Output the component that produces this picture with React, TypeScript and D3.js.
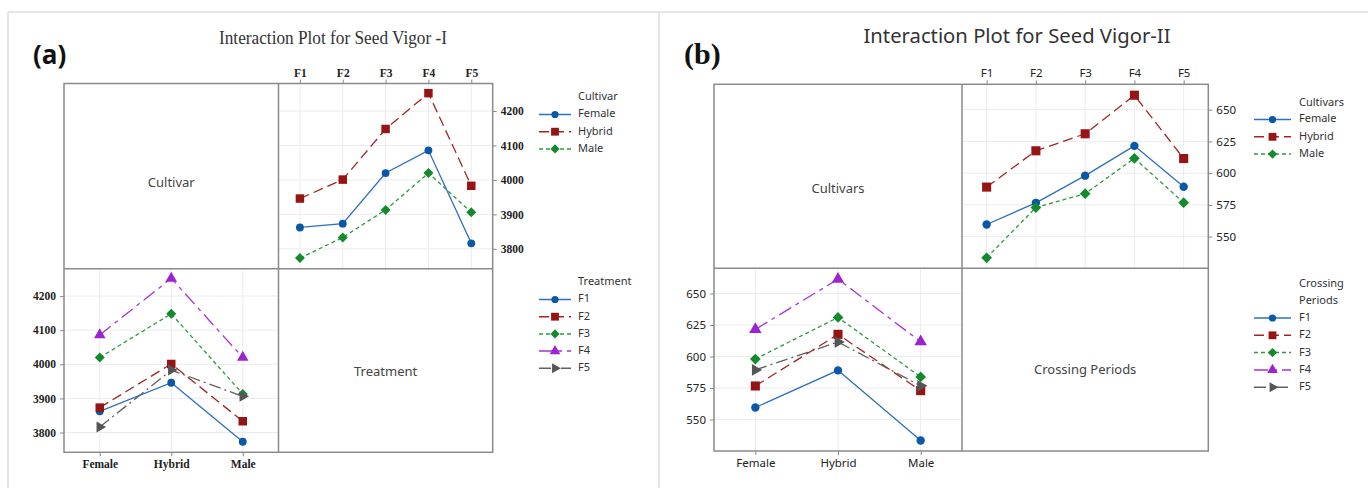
import React, { useEffect, useRef } from 'react';
import * as d3 from 'd3';

// categories
const cultivars = ['Female', 'Hybrid', 'Male'];
const periods = ['F1', 'F2', 'F3', 'F4', 'F5'];

// seed vigor I means (per cultivar, F1..F5)
const vigorIFemale = [3862, 3873, 4020, 4086, 3816];
const vigorIHybrid = [3946, 4001, 4148, 4252, 3983];
const vigorIMale = [3773, 3833, 3913, 4020, 3906];
const vigorITicks = [3800, 3900, 4000, 4100, 4200];

// seed vigor II means (per cultivar, F1..F5)
const vigorIIFemale = [559.5, 576.6, 598, 621.5, 589.3];
const vigorIIHybrid = [589, 617.6, 631, 661.4, 611.5];
const vigorIIMale = [533.3, 572.9, 583.8, 611.7, 576.7];
const vigorIITicks = [550, 575, 600, 625, 650];

const W = 1368;
const H = 488;

// series looks: blue solid circle, red long dash square, green short dash diamond,
// purple dash triangle, gray dash-dot arrow
const styles = [
  { line: '#2d6fc0', fill: '#0b58a8', dash: null, sym: d3.symbolCircle, size: 48, rot: 0 },
  { line: '#a32424', fill: '#961414', dash: '10,5', sym: d3.symbolSquare, size: 72, rot: 0 },
  { line: '#2c9a44', fill: '#138a2c', dash: '4,3', sym: d3.symbolSquare, size: 50, rot: 45 },
  { line: '#a534d6', fill: '#9d22d2', dash: '14,5,4,5', sym: d3.symbolTriangle, size: 58, rot: 0 },
  { line: '#606060', fill: '#555555', dash: '12,4,2,4', sym: d3.symbolTriangle, size: 52, rot: 90 },
];

function drawPanel(svg: any, p: any) {
  const matrix = [p.female, p.hybrid, p.male];
  const xTop = d3.scalePoint().domain(periods).range([p.mid, p.right]).padding(0.5);
  const yTop = d3.scaleLinear().domain(p.yDomain).range([p.hdiv, p.top]);
  const xBot = d3.scalePoint().domain(cultivars).range([p.left, p.mid]).padding(0.5);
  const yBot = d3.scaleLinear().domain(p.yDomain).range([p.bottom, p.hdiv]);
  const fmt = d3.format('d');

  const g = svg.append('g');

  // grid lines
  const grid = g.append('g').attr('stroke', '#ececec').attr('stroke-width', 1);
  periods.forEach((f) => {
    grid.append('line').attr('x1', xTop(f)).attr('x2', xTop(f)).attr('y1', p.top).attr('y2', p.hdiv);
  });
  p.ticks.forEach((t: number) => {
    grid.append('line').attr('x1', p.mid).attr('x2', p.right).attr('y1', yTop(t)).attr('y2', yTop(t));
    grid.append('line').attr('x1', p.left).attr('x2', p.mid).attr('y1', yBot(t)).attr('y2', yBot(t));
  });
  cultivars.forEach((c) => {
    grid.append('line').attr('x1', xBot(c)).attr('x2', xBot(c)).attr('y1', p.hdiv).attr('y2', p.bottom);
  });

  // axes
  const styleAxis = (a: any) => {
    a.select('.domain').remove();
    a.selectAll('line').attr('stroke', '#888');
    a.selectAll('text')
      .attr('font-family', p.tickFont)
      .attr('font-weight', p.tickWeight)
      .attr('font-size', p.tickSize)
      .attr('fill', '#222');
  };
  g.append('g').attr('transform', `translate(0,${p.top})`)
    .call(d3.axisTop(xTop).tickSize(4).tickPadding(3)).call(styleAxis);
  g.append('g').attr('transform', `translate(${p.right},0)`)
    .call(d3.axisRight(yTop).tickValues(p.ticks).tickFormat(fmt).tickSize(4).tickPadding(4)).call(styleAxis);
  g.append('g').attr('transform', `translate(0,${p.bottom})`)
    .call(d3.axisBottom(xBot).tickSize(4).tickPadding(4)).call(styleAxis);
  g.append('g').attr('transform', `translate(${p.left},0)`)
    .call(d3.axisLeft(yBot).tickValues(p.ticks).tickFormat(fmt).tickSize(4).tickPadding(4)).call(styleAxis);

  // frame
  const frame = g.append('g').attr('stroke', '#8a8a8a').attr('stroke-width', 1.5).attr('fill', 'none');
  frame.append('rect').attr('x', p.left).attr('y', p.top).attr('width', p.right - p.left).attr('height', p.bottom - p.top);
  frame.append('line').attr('x1', p.mid).attr('x2', p.mid).attr('y1', p.top).attr('y2', p.bottom);
  frame.append('line').attr('x1', p.left).attr('x2', p.right).attr('y1', p.hdiv).attr('y2', p.hdiv);

  // diagonal labels
  const lab = g.append('g').attr('font-family', "'Noto Sans', sans-serif").attr('font-size', 13)
    .attr('fill', '#444').attr('text-anchor', 'middle').attr('dominant-baseline', 'middle');
  lab.append('text').attr('x', (p.left + p.mid) / 2).attr('y', p.rowLabelY).text(p.rowLabel);
  lab.append('text').attr('x', (p.mid + p.right) / 2).attr('y', p.colLabelY).text(p.colLabel);

  const marker = (sel: any, s: any, x: number, y: number, k = 1) => {
    sel.append('path')
      .attr('d', d3.symbol().type(s.sym).size(s.size * k)())
      .attr('transform', `translate(${x},${y}) rotate(${s.rot})`)
      .attr('fill', s.fill);
  };

  // top-right: cultivar lines over periods
  const lineTop = d3.line<number>().x((_, i) => xTop(periods[i]) as number).y((v) => yTop(v));
  matrix.forEach((vals, ci) => {
    const s = styles[ci];
    g.append('path').attr('d', lineTop(vals)).attr('fill', 'none').attr('stroke', s.line)
      .attr('stroke-width', 1.3).attr('stroke-dasharray', s.dash);
    vals.forEach((v: number, i: number) => marker(g, s, xTop(periods[i]) as number, yTop(v), p.mk));
  });

  // bottom-left: period lines over cultivars
  const lineBot = d3.line<number>().x((_, i) => xBot(cultivars[i]) as number).y((v) => yBot(v));
  periods.forEach((f, fi) => {
    const s = styles[fi];
    const vals = matrix.map((row) => row[fi]);
    g.append('path').attr('d', lineBot(vals)).attr('fill', 'none').attr('stroke', s.line)
      .attr('stroke-width', 1.3).attr('stroke-dasharray', s.dash);
    vals.forEach((v: number, i: number) => marker(g, s, xBot(cultivars[i]) as number, yBot(v), p.mk));
  });

  // legends
  const leg = g.append('g').attr('font-family', "'Noto Sans', sans-serif").attr('font-size', 11)
    .attr('fill', '#333').attr('dominant-baseline', 'middle');
  const legendBlock = (titles: string[], ty: number, names: string[], y0: number) => {
    titles.forEach((t, i) => leg.append('text').attr('x', p.legText).attr('y', ty + i * 17).text(t));
    names.forEach((n, i) => {
      const s = styles[i];
      const y = y0 + i * p.legStep;
      leg.append('line').attr('x1', p.legX1).attr('x2', p.legX2).attr('y1', y).attr('y2', y)
        .attr('stroke', s.line).attr('stroke-width', 1.5).attr('stroke-dasharray', s.dash);
      marker(leg, s, (p.legX1 + p.legX2) / 2, y, 0.85);
      leg.append('text').attr('x', p.legText).attr('y', y).text(n);
    });
  };
  legendBlock(p.legTitle1, p.legTitle1Y, cultivars, p.leg1Y);
  legendBlock(p.legTitle2, p.legTitle2Y, periods, p.leg2Y);

  // title & panel tag
  svg.append('text').attr('x', p.titleX).attr('y', p.titleY).attr('text-anchor', 'middle')
    .attr('font-family', p.titleFont).attr('font-size', p.titleSize).attr('fill', '#333')
    .attr('textLength', p.titleLen).attr('lengthAdjust', 'spacingAndGlyphs').text(p.title);
  svg.append('text').attr('x', p.tagX).attr('y', 64)
    .attr('font-family', p.tagFont).attr('font-weight', 'bold').attr('font-size', p.tagSize)
    .attr('fill', '#111').text(p.tag);
}

const panelA = {
  female: vigorIFemale, hybrid: vigorIHybrid, male: vigorIMale, ticks: vigorITicks,
  yDomain: [3742, 4280], mk: 1,
  left: 64, top: 83.5, mid: 278.5, hdiv: 268.8, right: 492.7, bottom: 452.3,
  tickFont: "'Liberation Serif', serif", tickWeight: 'bold', tickSize: 11.5,
  rowLabel: 'Cultivar', rowLabelY: 184, colLabel: 'Treatment', colLabelY: 373,
  legTitle1: ['Cultivar'], legTitle1Y: 97, leg1Y: 114.5,
  legTitle2: ['Treatment'], legTitle2Y: 282, leg2Y: 299.5, legStep: 17.2,
  legX1: 539, legX2: 571, legText: 578,
  title: 'Interaction Plot for Seed Vigor -I', titleX: 333, titleY: 44, titleLen: 228,
  titleFont: "'Liberation Serif', serif", titleSize: 18,
  tag: '(a)', tagX: 33, tagFont: "'Open Sans', sans-serif", tagSize: 26,
};

const panelB = {
  female: vigorIIFemale, hybrid: vigorIIHybrid, male: vigorIIMale, ticks: vigorIITicks,
  yDomain: [525, 670], mk: 1.15,
  left: 714, top: 84.3, mid: 962, hdiv: 268.3, right: 1208.3, bottom: 451,
  tickFont: "'Noto Sans', sans-serif", tickWeight: 'normal', tickSize: 11.5,
  rowLabel: 'Cultivars', rowLabelY: 190, colLabel: 'Crossing Periods', colLabelY: 371,
  legTitle1: ['Cultivars'], legTitle1Y: 102.7, leg1Y: 119.5,
  legTitle2: ['Crossing', 'Periods'], legTitle2Y: 284.3, leg2Y: 318, legStep: 17.3,
  legX1: 1254, legX2: 1291, legText: 1299,
  title: 'Interaction Plot for Seed Vigor-II', titleX: 1017, titleY: 43, titleLen: 307,
  titleFont: "'Noto Sans', sans-serif", titleSize: 19,
  tag: '(b)', tagX: 684, tagFont: "'Liberation Serif', serif", tagSize: 30,
};

export default function App() {
  const ref = useRef<SVGSVGElement>(null);

  useEffect(() => {
    const svg = d3.select(ref.current);
    svg.selectAll('*').remove();
    svg.append('rect').attr('width', W).attr('height', H).attr('fill', '#fff');
    // panel borders
    const b = svg.append('g').attr('stroke', '#dcdcdc').attr('stroke-width', 1.5);
    b.append('line').attr('x1', 8).attr('x2', W).attr('y1', 12).attr('y2', 12);
    b.append('line').attr('x1', 8).attr('x2', 8).attr('y1', 12).attr('y2', H);
    b.append('line').attr('x1', 659).attr('x2', 659).attr('y1', 12).attr('y2', H);
    drawPanel(svg, panelA);
    drawPanel(svg, panelB);
  }, []);

  return (
    <svg ref={ref} width={W} height={H}
      style={{ position: 'absolute', left: 0, top: 0, display: 'block' }} />
  );
}
